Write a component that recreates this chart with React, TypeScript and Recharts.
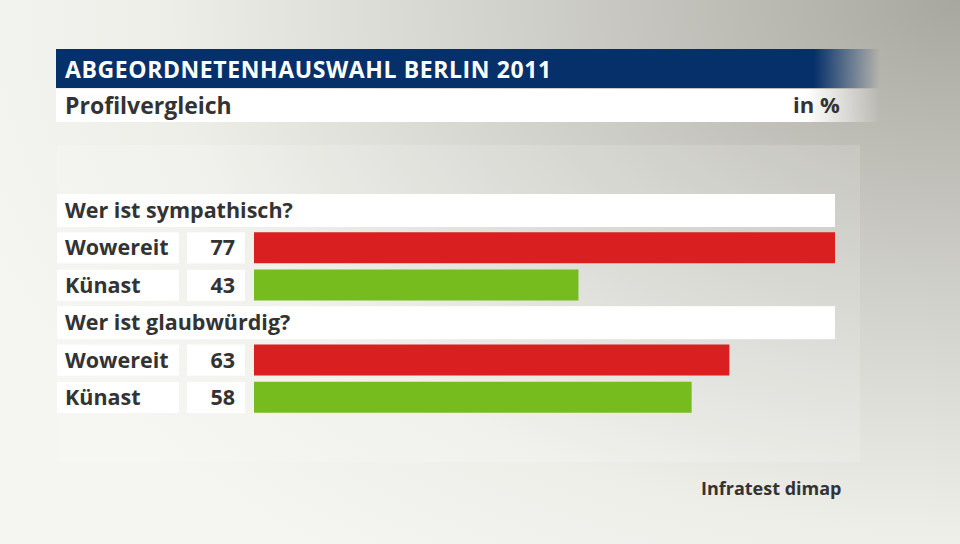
import { Bar, BarChart, Cell, XAxis, YAxis } from 'recharts';

const questions = ['Wer ist sympathisch?', 'Wer ist glaubwürdig?'];
const candidates = ['Wowereit', 'Künast'];
const sympathisch = [77, 43];
const glaubwuerdig = [63, 58];
const candidateColors = ['#d91f1f', '#77bc1f'];

const FONT = '"Open Sans", "Noto Sans", sans-serif';

// one header row per question, then one row per candidate
const rows: any[] = [];
[sympathisch, glaubwuerdig].forEach((values, qi) => {
    rows.push({ id: 'q' + qi, label: questions[qi], header: true, value: null });
    candidates.forEach((name, ci) => {
        rows.push({ id: 'q' + qi + 'c' + ci, label: name, header: false, value: values[ci], color: candidateColors[ci] });
    });
});

function RowTick(props: any) {
    const row = rows.find((r) => r.id === props.payload.value);
    if (!row) return null;
    const y = props.y;
    if (row.header) {
        return (
            <g>
                <rect x={57} y={y - 16.5} width={778} height={33} fill="#ffffff" />
                <text x={65} y={y + 7.5} fontFamily={FONT} fontWeight={700} fontSize={21.5} fill="#333333">
                    {row.label}
                </text>
            </g>
        );
    }
    return (
        <g>
            <rect x={57} y={y - 15.5} width={122} height={31} fill="#ffffff" />
            <text x={65} y={y + 7.5} fontFamily={FONT} fontWeight={700} fontSize={21.5} fill="#333333">
                {row.label}
            </text>
            <rect x={187} y={y - 15.5} width={58} height={31} fill="#ffffff" />
            <text x={235} y={y + 7.5} textAnchor="end" fontFamily={FONT} fontWeight={700} fontSize={21.5} fill="#333333">
                {row.value}
            </text>
        </g>
    );
}

export default function App() {
    return (
        <div
            style={{
                position: 'absolute',
                left: 0,
                top: 0,
                width: 960,
                height: 544,
                overflow: 'hidden',
                fontFamily: FONT,
                background: 'radial-gradient(ellipse 110% 130% at 100% 0%, #a8a79f 0%, #cfcfc9 40%, #eeeee9 75%, #f5f5f1 100%)',
            }}
        >
            <div style={{ position: 'absolute', left: 57, top: 145, width: 803, height: 317, background: 'rgba(255,255,255,0.15)' }} />
            <div
                style={{
                    position: 'absolute',
                    left: 56,
                    top: 49,
                    width: 824,
                    height: 39,
                    background: 'linear-gradient(to right, #06306a 0%, #06306a 92%, rgba(6,48,106,0) 100%)',
                }}
            >
                <span style={{ position: 'absolute', left: 9, top: 4, color: '#ffffff', fontWeight: 700, fontSize: 23, letterSpacing: 0.6, whiteSpace: 'nowrap' }}>
                    ABGEORDNETENHAUSWAHL BERLIN 2011
                </span>
            </div>
            <div
                style={{
                    position: 'absolute',
                    left: 56,
                    top: 89,
                    width: 824,
                    height: 33,
                    background: 'linear-gradient(to right, #ffffff 0%, #ffffff 91%, rgba(255,255,255,0) 100%)',
                }}
            >
                <span style={{ position: 'absolute', left: 9, top: 0, color: '#333333', fontWeight: 700, fontSize: 23, whiteSpace: 'nowrap' }}>
                    Profilvergleich
                </span>
                <span style={{ position: 'absolute', left: 737, top: 0, color: '#333333', fontWeight: 700, fontSize: 22, whiteSpace: 'nowrap' }}>
                    in %
                </span>
            </div>
            <div style={{ position: 'absolute', left: 0, top: 0 }}>
                <BarChart
                    width={960}
                    height={544}
                    data={rows}
                    layout="vertical"
                    margin={{ top: 191.8, right: 125, bottom: 127.8, left: 0 }}
                >
                    <XAxis type="number" domain={[0, 77]} hide />
                    <YAxis
                        type="category"
                        dataKey="id"
                        width={254}
                        axisLine={false}
                        tickLine={false}
                        tick={<RowTick />}
                        interval={0}
                    />
                    <Bar dataKey="value" barSize={31} isAnimationActive={false}>
                        {rows.map((r) => (
                            <Cell key={r.id} fill={r.color || 'none'} />
                        ))}
                    </Bar>
                </BarChart>
            </div>
            <div style={{ position: 'absolute', left: 701, top: 476, color: '#333333', fontWeight: 700, fontSize: 18, whiteSpace: 'nowrap' }}>
                Infratest dimap
            </div>
        </div>
    );
}
